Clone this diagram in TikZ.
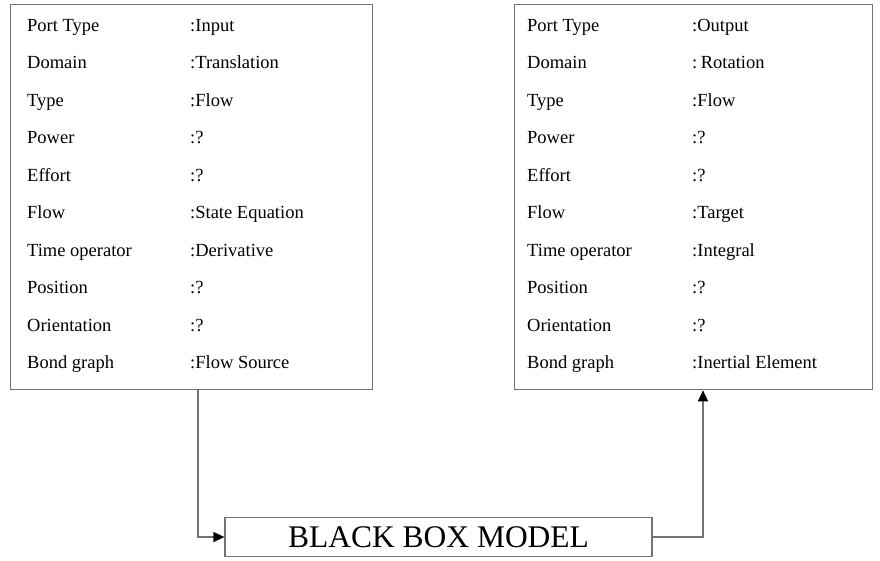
\documentclass[tikz,border=0pt]{standalone}
\usepackage{fontspec}
\setmainfont{Liberation Serif}
\usetikzlibrary{arrows.meta,positioning}
\definecolor{edge}{gray}{0.45}
\begin{document}
\begin{tikzpicture}[x=1pt,y=-1pt,
  frame/.style={draw=edge,line width=1.3pt,rectangle,inner sep=0pt,anchor=north west},
  rowtext/.style={anchor=base west,inner sep=0pt,font=\fontsize{18.5}{20}\selectfont},
  bigtext/.style={font=\fontsize{31.5}{33}\selectfont},
  conn/.style={draw=edge,line width=1.3pt,-{Triangle[length=11pt,width=10pt,fill=black,color=black]}}]
\useasboundingbox (0,0) rectangle (880,560);
\node[frame,minimum width=362pt,minimum height=385pt] (L) at (10,4) {};
\node[frame,minimum width=358pt,minimum height=385pt] (R) at (514,4) {};
\node[draw=edge,line width=1.3pt,rectangle,minimum width=427pt,minimum height=39pt,inner sep=0pt,bigtext] (B) at (438.5,537) {BLACK BOX MODEL};
% left rows
\foreach \i/\a/\b in {0/Port Type/:Input,1/Domain/:Translation,2/Type/:Flow,3/Power/:?,4/Effort/:?,5/Flow/:State Equation,6/Time operator/:Derivative,7/Position/:?,8/Orientation/:?,9/Bond graph/:Flow Source}{
  \node[rowtext] (la\i) at (27,31+37.5*\i) {\a};
  \node[rowtext] (lb\i) at (190,31+37.5*\i) {\b};
}
\foreach \i/\a/\b in {0/Port Type/:Output,1/Domain/:\kern3.5pt Rotation,2/Type/:Flow,3/Power/:?,4/Effort/:?,5/Flow/:Target,6/Time operator/:Integral,7/Position/:?,8/Orientation/:?,9/Bond graph/:Inertial Element}{
  \node[rowtext] (ra\i) at (527,31+37.5*\i) {\a};
  \node[rowtext] (rb\i) at (692,31+37.5*\i) {\b};
}
\coordinate (p1) at (198,0);
\coordinate (p2) at (703,0);
\draw[conn] (L.south -| p1) |- (B);
\draw[conn] (B) -| (R.south -| p2);
\end{tikzpicture}
\end{document}
